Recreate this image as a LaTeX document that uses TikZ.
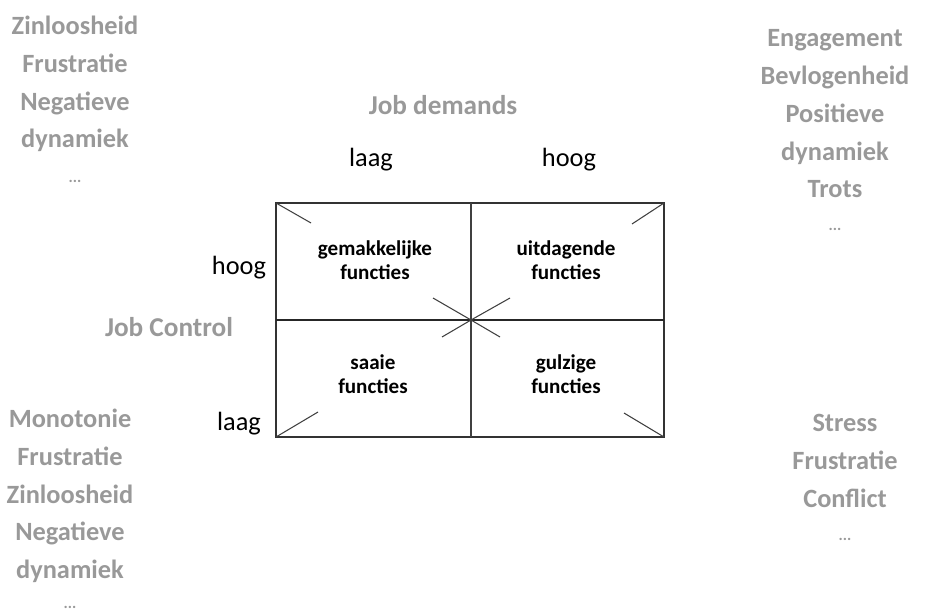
\documentclass[tikz,border=0pt]{standalone}
\usepackage{fontspec}
\setmainfont{Carlito}
\usetikzlibrary{positioning}

\tikzset{
  side/.style={align=center, text=black!40, font=\fontsize{15}{21.5}\selectfont\bfseries},
  more/.style={text=black!40, font=\fontsize{9}{10}\selectfont\bfseries},
  axis/.style={text=black!40, font=\fontsize{15.5}{18}\selectfont\bfseries},
  level/.style={font=\fontsize{15}{18}\selectfont},
  cell/.style={align=center, font=\fontsize{12}{13.5}\selectfont\bfseries},
  tick/.style={black!75, line width=0.6pt}
}

\begin{document}
\begin{tikzpicture}[x=0.02cm,y=-0.02cm]
    \useasboundingbox (0,0) rectangle (926,611);

      % the four corners outside
      \node(tl) at (75,84) [side] {Zinloosheid\\Frustratie\\Negatieve\\dynamiek};
      \node(tldots) at (75,181) [more] {...};
      \node(tr) at (835,114) [side] {Engagement\\Bevlogenheid\\Positieve\\dynamiek\\Trots};
      \node(trdots) at (835,229) [more] {...};
      \node(bl) at (70,496) [side] {Monotonie\\Frustratie\\Zinloosheid\\Negatieve\\dynamiek};
      \node(bldots) at (70,607) [more] {...};
      \node(br) at (845,461) [side] {Stress\\Frustratie\\Conflict};
      \node(brdots) at (845,539) [more] {...};

      % axes
      \node(demands) at (443,105) [axis] {Job demands};
      \node(control) at (169,327) [axis] {Job Control};
      \node(dlow) at (371,160) [level] {laag};
      \node(dhigh) at (569,160) [level] {hoog};
      \node(chigh) at (239,268) [level] {hoog};
      \node(clow) at (239,424) [level] {laag};

      % grid
      \coordinate (nw) at (276,203);
      \coordinate (ne) at (664,203);
      \coordinate (sw) at (276,437);
      \coordinate (se) at (664,437);
      \coordinate (n) at (471,203);
      \coordinate (s) at (471,437);
      \coordinate (w) at (276,320);
      \coordinate (e) at (664,320);
      \coordinate (c) at (471,320);

      \draw[black!80, line width=0.8pt] (nw) rectangle (se);
      \draw[black!75, line width=0.7pt] (n) -- (s);
      \draw[black!85, line width=0.9pt] (w) -- (e);

      \draw[tick] (nw) -- (311,223);
      \draw[tick] (ne) -- (632,224);
      \draw[tick] (sw) -- (318,412);
      \draw[tick] (se) -- (624,413);
      \draw[tick] (433,298) -- (c) -- (500,337);
      \draw[tick] (510,298) -- (c) -- (442,337);

      \node(easy) at (375,260) [cell] {gemakkelijke\\functies};
      \node(chall) at (566,260) [cell] {uitdagende\\functies};
      \node(dull) at (373,374) [cell] {saaie\\functies};
      \node(greedy) at (566,374) [cell] {gulzige\\functies};
  \end{tikzpicture}
\end{document}
